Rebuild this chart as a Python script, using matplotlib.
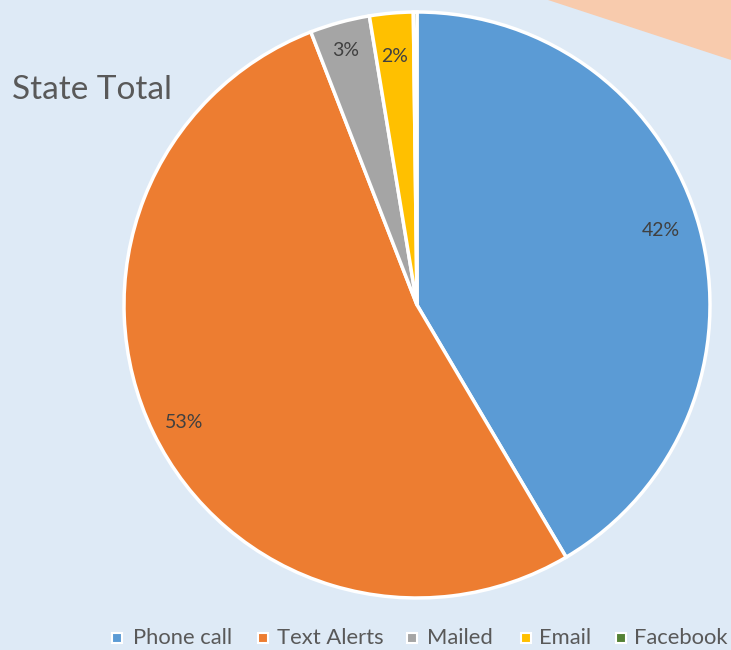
import matplotlib
matplotlib.use("Agg")
import matplotlib.pyplot as plt
from matplotlib.patches import Polygon, Rectangle

categories = ["Phone call", "Text Alerts", "Mailed", "Email", "Facebook"]
values = [41.5, 52.6, 3.3, 2.4, 0.2]
labels = ["42%", "53%", "3%", "2%", ""]
colors = ["#5b9bd5", "#ed7d31", "#a5a5a5", "#ffc000", "#548235"]

W, H = 731, 650
bg = "#deeaf6"
fig = plt.figure(figsize=(W / 100, H / 100), dpi=100, facecolor=bg)
ax = fig.add_axes([0, 0, 1, 1])
ax.set_xlim(0, W)
ax.set_ylim(0, H)
ax.set_facecolor(bg)
ax.axis("off")

# peach decoration top right
ax.add_patch(Polygon([(548, H), (W, H), (W, H - 60)], closed=True,
                     facecolor="#f8cbad", edgecolor="none", zorder=0))

cx, cy, r = 417, H - 305, 293
wedges, _ = ax.pie(values, colors=colors, startangle=90, counterclock=False,
                   center=(cx, cy), radius=r, frame=True,
                   wedgeprops=dict(edgecolor="white", linewidth=2.5))
ax.set_xlim(0, W)
ax.set_ylim(0, H)
ax.axis("off")

font = "Lato"
label_pos = [(661, 231), (184, 423), (346, 50), (395, 57)]
for (x, y), t in zip(label_pos, labels):
    ax.text(x, H - y, t, ha="center", va="center", fontsize=14,
            color="#404040", family=font)

ax.text(12, H - 90, "State Total", ha="left", va="center", fontsize=24,
        color="#595959", family=font)

leg_sq = [117, 263, 412, 526, 621]
leg_tx = [133, 277, 427, 539, 634]
for c, name, sx, tx in zip(colors, categories, leg_sq, leg_tx):
    ax.add_patch(Rectangle((sx - 5, H - 638 - 5), 10, 10, facecolor=c,
                           edgecolor="white", linewidth=1.5))
    ax.text(tx, H - 638, name, ha="left", va="center", fontsize=15.8,
            color="#595959", family=font)

fig.savefig("out.png", dpi=100, facecolor=bg)
